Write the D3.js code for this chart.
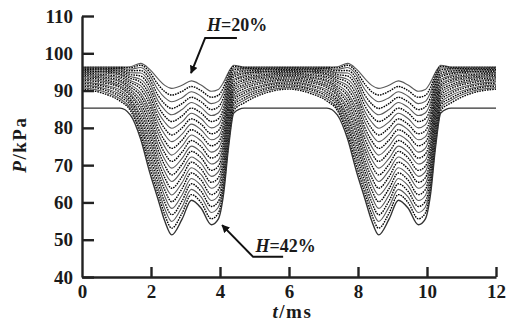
<!DOCTYPE html>
<html>
<head>
<meta charset="utf-8">
<script src="https://cdn.jsdelivr.net/npm/d3@7"></script>
<style>
  body { margin: 0; background: #fff; }
  svg text { font-family: "Liberation Serif", "DejaVu Serif", serif; font-weight: bold; fill: #1a1a1a; }
</style>
</head>
<body>
<div id="chart"></div>
<script>
// time knots of one 6 ms cycle (ms); the second cycle repeats the first
const tCycle = [0, 0.6, 1.1, 1.4, 1.7, 1.95, 2.2, 2.4, 2.6, 2.9, 3.17, 3.45, 3.75, 3.95, 4.1, 4.25, 4.4, 4.7, 5.3, 6.0];
const cycleStart = [0, 6];

// humidity H (%) of each curve, top to bottom
const humidity = [20, 21, 22, 23, 24, 25, 26, 27, 28, 29, 30, 31, 32, 33, 34, 35, 36, 37, 38, 39, 40, 41, 42];

// pressure P (kPa) at each knot, one row per humidity
const pressure = [
  [96.3, 96.3, 96.3, 96.4, 97.3, 95.8, 93.2, 91.4, 90.6, 91.4, 92.6, 91.5, 89.8, 90.3, 92.2, 95.0, 96.8, 96.3, 96.3, 96.3],
  [96.2, 96.2, 96.2, 96.1, 96.8, 95.1, 91.7, 89.7, 88.8, 89.8, 91.1, 90.0, 88.2, 88.7, 90.8, 94.5, 96.5, 96.2, 96.2, 96.2],
  [96.1, 96.1, 96.0, 95.7, 96.2, 94.3, 90.3, 88.1, 87.0, 88.1, 89.7, 88.5, 86.5, 87.1, 89.5, 93.9, 96.1, 96.0, 96.1, 96.1],
  [96.0, 95.9, 95.8, 95.3, 95.4, 93.3, 88.8, 86.4, 85.2, 86.5, 88.2, 87.0, 84.9, 85.6, 88.1, 93.2, 95.6, 95.8, 95.9, 96.0],
  [95.8, 95.7, 95.5, 94.8, 94.7, 92.3, 87.3, 84.8, 83.5, 84.9, 86.8, 85.5, 83.3, 84.0, 86.7, 92.4, 95.1, 95.5, 95.7, 95.8],
  [95.6, 95.5, 95.2, 94.3, 93.9, 91.2, 85.9, 83.1, 81.7, 83.2, 85.3, 84.0, 81.7, 82.4, 85.3, 91.6, 94.6, 95.2, 95.5, 95.6],
  [95.4, 95.2, 94.9, 93.8, 93.0, 90.1, 84.4, 81.5, 79.9, 81.6, 83.9, 82.5, 80.0, 80.8, 84.0, 90.8, 94.1, 94.8, 95.2, 95.4],
  [95.2, 95.0, 94.5, 93.3, 92.2, 88.9, 83.0, 79.8, 78.1, 80.0, 82.4, 81.0, 78.4, 79.2, 82.6, 89.9, 93.6, 94.5, 95.0, 95.2],
  [94.9, 94.7, 94.2, 92.7, 91.3, 87.7, 81.5, 78.2, 76.3, 78.3, 81.0, 79.5, 76.8, 77.6, 81.2, 89.1, 93.0, 94.0, 94.7, 94.9],
  [94.7, 94.3, 93.7, 92.2, 90.4, 86.5, 80.0, 76.5, 74.5, 76.7, 79.5, 78.0, 75.2, 76.1, 79.8, 88.2, 92.4, 93.6, 94.3, 94.7],
  [94.4, 94.0, 93.3, 91.6, 89.4, 85.2, 78.6, 74.9, 72.7, 75.1, 78.1, 76.5, 73.5, 74.5, 78.5, 87.2, 91.8, 93.1, 94.0, 94.4],
  [94.1, 93.6, 92.8, 91.0, 88.5, 83.9, 77.1, 73.2, 71.0, 73.5, 76.6, 75.0, 71.9, 72.9, 77.1, 86.3, 91.2, 92.7, 93.6, 94.1],
  [93.8, 93.3, 92.4, 90.4, 87.5, 82.6, 75.6, 71.5, 69.2, 71.8, 75.1, 73.5, 70.3, 71.3, 75.7, 85.3, 90.6, 92.2, 93.3, 93.8],
  [93.4, 92.9, 91.8, 89.8, 86.5, 81.3, 74.2, 69.9, 67.4, 70.2, 73.7, 72.0, 68.6, 69.7, 74.4, 84.4, 90.0, 91.6, 92.9, 93.4],
  [93.1, 92.5, 91.3, 89.2, 85.5, 79.9, 72.7, 68.2, 65.6, 68.6, 72.2, 70.5, 67.0, 68.2, 73.0, 83.4, 89.4, 91.1, 92.5, 93.1],
  [92.8, 92.1, 90.8, 88.6, 84.5, 78.6, 71.2, 66.6, 63.8, 66.9, 70.8, 69.0, 65.4, 66.6, 71.6, 82.4, 88.7, 90.5, 92.1, 92.8],
  [92.4, 91.6, 90.2, 87.9, 83.4, 77.2, 69.8, 64.9, 62.0, 65.3, 69.3, 67.5, 63.8, 65.0, 70.2, 81.4, 88.1, 89.9, 91.6, 92.4],
  [92.0, 91.2, 89.6, 87.3, 82.4, 75.8, 68.3, 63.3, 60.2, 63.7, 67.9, 66.0, 62.1, 63.4, 68.9, 80.3, 87.4, 89.3, 91.2, 92.0],
  [91.6, 90.7, 89.0, 86.7, 81.3, 74.3, 66.9, 61.6, 58.4, 62.0, 66.4, 64.5, 60.5, 61.8, 67.5, 79.3, 86.7, 88.7, 90.7, 91.6],
  [91.2, 90.3, 88.4, 86.0, 80.3, 72.9, 65.4, 60.0, 56.7, 60.4, 65.0, 63.0, 58.9, 60.2, 66.1, 78.2, 86.1, 88.0, 90.3, 91.2],
  [90.8, 89.8, 87.8, 85.3, 79.2, 71.5, 63.9, 58.3, 54.9, 58.8, 63.5, 61.5, 57.3, 58.7, 64.7, 77.2, 85.4, 87.4, 89.8, 90.8],
  [90.4, 89.3, 87.2, 84.7, 78.1, 70.0, 62.5, 56.7, 53.1, 57.1, 62.1, 60.0, 55.6, 57.1, 63.4, 76.1, 84.7, 86.7, 89.3, 90.4],
  [85.3, 85.3, 85.3, 83.5, 77.0, 68.5, 61.0, 55.0, 51.3, 55.5, 60.6, 58.5, 54.0, 55.5, 62.0, 75.0, 84.0, 85.3, 85.3, 85.3]
];

const xTicks = [0, 2, 4, 6, 8, 10, 12];
const yTicks = [40, 50, 60, 70, 80, 90, 100, 110];

// labels: text anchor (t, P), leader line y and x-extent, arrow tip
const notes = [
  { label: "20%", t: 3.62, p: 106.0, leaderP: 104.1, leaderT0: 4.49, leaderT1: 3.57, tipT: 3.16, tipP: 94.7 },
  { label: "42%", t: 5.03, p: 46.7, leaderP: 45.4, leaderT0: 5.83, leaderT1: 4.96, tipT: 4.06, tipP: 53.9 }
];

const W = 514, H = 324;
const margin = { top: 16, right: 18, bottom: 47, left: 82 };

const svg = d3.select("#chart").append("svg")
  .attr("width", W).attr("height", H);

const x = d3.scaleLinear().domain([0, 12]).range([margin.left, W - margin.right]);
const y = d3.scaleLinear().domain([40, 110]).range([H - margin.bottom, margin.top]);

// curves
const line = d3.line()
  .x(d => x(d.t))
  .y(d => y(d.p))
  .curve(d3.curveMonotoneX);

const series = humidity.map((h, i) => ({
  h: h,
  i: i,
  points: cycleStart.flatMap((c, ci) =>
    tCycle.map((t, k) => ({ t: t + c, p: pressure[i][k], k: k }))
      .filter(d => !(ci > 0 && d.k === 0)))
}));

const last = humidity.length - 1;
svg.append("g").selectAll("path")
  .data(series)
  .enter().append("path")
    .attr("fill", "none")
    .attr("stroke", d => d.i === last ? "#333" : (d.i % 2 ? "#000" : "#5a5a5a"))
    .attr("stroke-width", d => d.i === last ? 1.4 : (d.i % 2 ? 1.4 : 1.1))
    .attr("stroke-dasharray", d => (d.i % 2 && d.i !== last) ? "1.6,1" : null)
    .attr("d", d => line(d.points));

// axes
const axisY = svg.append("g")
  .attr("transform", "translate(" + margin.left + ",0)")
  .call(d3.axisLeft(y).tickValues(yTicks).tickSizeInner(-12).tickSizeOuter(0).tickPadding(9));

const axisX = svg.append("g")
  .attr("transform", "translate(0," + (H - margin.bottom) + ")")
  .call(d3.axisBottom(x).tickValues(xTicks).tickSizeInner(-10).tickSizeOuter(0).tickPadding(8));

[axisX, axisY].forEach(a => {
  a.select(".domain").attr("stroke", "#222").attr("stroke-width", 2.4);
  a.selectAll(".tick line").attr("stroke", "#222").attr("stroke-width", 2.4);
  a.selectAll(".tick text")
    .attr("fill", "#1a1a1a")
    .style("font-family", "'Liberation Serif', serif")
    .style("font-weight", "bold")
    .style("font-size", "19px");
});
axisX.selectAll(".tick").filter(d => d === 0).select("line").remove();

// axis titles
const yTitle = svg.append("text")
  .attr("transform", "translate(26," + y(75.5) + ") rotate(-90)")
  .attr("text-anchor", "middle")
  .style("font-size", "19px")
  .style("letter-spacing", "1.5px");
yTitle.append("tspan").style("font-style", "italic").text("P");
yTitle.append("tspan").text("/kPa");

const xTitle = svg.append("text")
  .attr("x", x(6.1))
  .attr("y", 318)
  .attr("text-anchor", "middle")
  .style("font-size", "19px")
  .style("letter-spacing", "1.5px");
xTitle.append("tspan").style("font-style", "italic").text("t");
xTitle.append("tspan").text("/ms");

// annotations
svg.append("defs").append("marker")
  .attr("id", "arrow")
  .attr("viewBox", "0 0 10 10")
  .attr("refX", 9).attr("refY", 5)
  .attr("markerWidth", 8).attr("markerHeight", 8)
  .attr("markerUnits", "userSpaceOnUse")
  .attr("orient", "auto")
  .append("path").attr("d", "M0,0L10,5L0,10z").attr("fill", "#111");

notes.forEach(n => {
  svg.append("path")
    .attr("fill", "none")
    .attr("stroke", "#111")
    .attr("stroke-width", 2)
    .attr("marker-end", "url(#arrow)")
    .attr("d", d3.line()([
      [x(n.leaderT0), y(n.leaderP)],
      [x(n.leaderT1), y(n.leaderP)],
      [x(n.tipT), y(n.tipP)]
    ]));
  const tx = svg.append("text")
    .attr("x", x(n.t))
    .attr("y", y(n.p))
    .style("font-size", "18px");
  tx.append("tspan").style("font-style", "italic").text("H");
  tx.append("tspan").text("=" + n.label);
});
</script>
</body>
</html>
